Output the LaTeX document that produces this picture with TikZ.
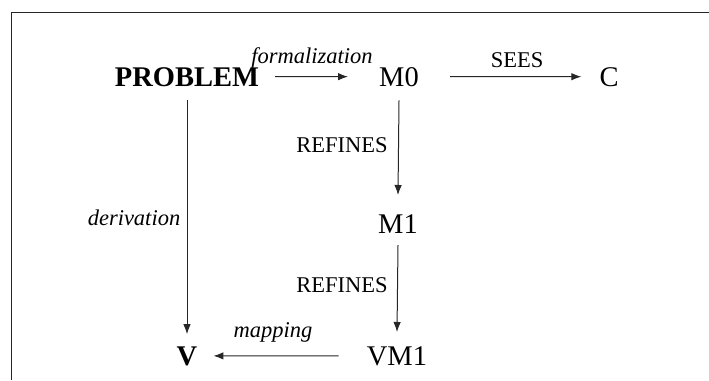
\documentclass[tikz,border=0pt]{standalone}
\usepackage{fontspec}
\setmainfont{Liberation Serif}
\usetikzlibrary{arrows.meta}
\tikzset{
  big/.style={font=\fontsize{28.5}{30}\selectfont, inner sep=0pt, anchor=base},
  bigb/.style={big, font=\fontsize{28.5}{30}\selectfont\bfseries},
  lbl/.style={font=\fontsize{22.5}{24}\selectfont, inner sep=0pt, anchor=base},
  lbli/.style={lbl, font=\fontsize{22.5}{24}\selectfont\itshape},
  arr/.style={draw=black!85, line width=1pt, -{Latex[length=10pt,width=7.5pt]}},
  frame/.style={draw=black!85, line width=1.4pt}
}
\begin{document}
\begin{tikzpicture}[x=1pt,y=-1pt]
\useasboundingbox (0,0) rectangle (709,380);
\coordinate (fl) at (11.3,380);
\coordinate (fc) at (11.3,12.7);
\coordinate (fr) at (709,12.7);
\draw[frame] (fl) -- (fc) -- (fr);

\node[bigb] (P) at (187,86) {PROBLEM};
\node[big] (M0) at (399,86) {M0};
\node[big] (C) at (609,86) {C};
\node[big] (M1) at (398,233) {M1};
\node[big] (VM1) at (397,365) {VM1};
\node[bigb] (V) at (187,365) {V};

\node[lbli] (lf) at (312,63) {formalization};
\node[lbl] (ls) at (517,67) {SEES};
\node[lbl] (lr1) at (342,152) {REFINES};
\node[lbl] (lr2) at (342,292) {REFINES};
\node[lbli] (ld) at (134,225) {derivation};
\node[lbli] (lm) at (273,337) {mapping};

\draw[arr] ([xshift=16pt]P.east) -- ([xshift=-31pt]M0.west);
\draw[arr] ([xshift=31pt]M0.east) -- ([xshift=-18pt]C.west);
\draw[arr] ([yshift=-14pt]M0.south) -- ([yshift=19pt]M1.north);
\draw[arr] ([yshift=-12pt]M1.south) -- ([yshift=14pt]VM1.north);
\draw[arr] ([xshift=-28pt]VM1.west) -- ([xshift=16pt]V.east);
\draw[arr] ([yshift=-14pt]P.south) -- ([yshift=12pt]V.north);
\end{tikzpicture}
\end{document}
